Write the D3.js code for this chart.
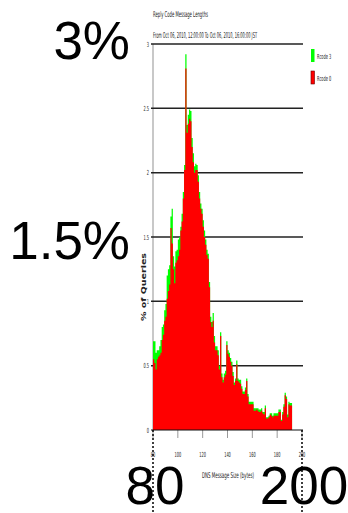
<!DOCTYPE html>
<html><head><meta charset="utf-8">
<script src="https://cdn.jsdelivr.net/npm/d3@7"></script>
<style>html,body{margin:0;padding:0;background:#fff;}svg{display:block;}</style>
</head><body>
<svg id="c" width="348" height="513"></svg>
<script>
const title = "Reply Code Message Lengths";
const subtitle = "From Oct 06, 2010, 12:00:00 To Oct 06, 2010, 16:00:00 JST";
const xTitle = "DNS Message Size (bytes)";
const yTitle = "% of Queries";
const seriesNames = ["Rcode 3", "Rcode 0"];
const seriesColors = ["#00ff00", "#ff0000"];
const yTicks = [0, 0.5, 1, 1.5, 2, 2.5, 3];
const yTickLabels = ["0", "0.5", "1", "1.5", "2", "2.5", "3"];
const xTicks = [80, 100, 120, 140, 160, 180, 200];
const bigYLabels = [{v: 3, t: "3%"}, {v: 1.5, t: "1.5%"}];
const bigXLabels = [{v: 80, t: "80"}, {v: 200, t: "200"}];
const sizes = d3.range(80, 192);
// total height (Rcode 3 visible on top of Rcode 0)
const rcode3 = [0.69,0.69,0.60,0.62,0.62,0.65,0.70,0.80,0.82,0.93,0.98,1.20,1.25,1.28,1.66,1.72,1.35,1.27,1.39,1.40,
1.48,1.50,1.58,1.68,1.85,2.06,2.92,2.37,2.45,2.49,2.48,2.27,2.15,2.05,2.07,2.06,1.98,1.85,1.76,1.72,
1.63,1.55,1.48,1.40,1.37,1.15,0.88,0.84,0.91,0.73,0.65,0.65,0.62,0.50,0.76,0.44,0.39,0.44,0.46,0.69,
0.62,0.60,0.56,0.53,0.45,0.37,0.40,0.54,0.40,0.39,0.39,0.34,0.30,0.30,0.33,0.40,0.28,0.22,0.22,0.22,
0.22,0.17,0.17,0.17,0.17,0.16,0.16,0.17,0.14,0.14,0.19,0.10,0.10,0.11,0.13,0.13,0.11,0.13,0.13,0.13,
0.13,0.16,0.16,0.08,0.14,0.20,0.29,0.26,0.12,0.22,0.21,0.21];
const rcode0 = [0.55,0.52,0.47,0.55,0.57,0.58,0.60,0.70,0.74,0.85,0.88,1.02,1.08,1.13,1.57,1.45,1.25,1.14,1.30,1.32,
1.35,1.40,1.55,1.62,1.80,2.02,2.81,2.31,2.38,2.42,2.40,2.20,2.08,2.00,2.02,2.02,1.93,1.80,1.72,1.68,
1.58,1.50,1.44,1.36,1.33,1.11,0.84,0.80,0.85,0.68,0.62,0.62,0.58,0.47,0.73,0.41,0.37,0.41,0.43,0.66,
0.59,0.57,0.53,0.50,0.42,0.35,0.38,0.51,0.38,0.37,0.36,0.32,0.28,0.28,0.31,0.38,0.26,0.20,0.20,0.20,
0.20,0.15,0.15,0.16,0.15,0.14,0.14,0.15,0.13,0.12,0.17,0.09,0.09,0.10,0.12,0.11,0.10,0.11,0.11,0.11,
0.11,0.14,0.14,0.07,0.12,0.18,0.27,0.24,0.10,0.20,0.19,0.19];

const svg = d3.select("#c");
const x = d3.scaleLinear().domain([80, 200]).range([153, 302]);
const y = d3.scaleLinear().domain([0, 3]).range([430, 44]);
const small = "'DejaVu Sans', sans-serif";

function tinyText(px, py, txt, opts) {
  const o = Object.assign({size: 7, sx: 0.55, anchor: "start", weight: "normal", fill: "#222"}, opts || {});
  svg.append("g").attr("transform", `translate(${px},${py}) scale(${o.sx},1)`)
    .append("text").attr("font-family", small).attr("font-size", o.size)
    .attr("font-weight", o.weight).attr("fill", o.fill).attr("text-anchor", o.anchor).text(txt);
}

// y axis grey line
svg.append("line").attr("x1", 153).attr("x2", 153).attr("y1", y(3)).attr("y2", y(0))
  .attr("stroke", "#c8c8c8").attr("stroke-width", 2);

// gridlines
svg.append("g").selectAll("line").data(yTicks.filter(d => d > 0)).join("line")
  .attr("x1", 151).attr("x2", 303).attr("y1", d => y(d)).attr("y2", d => y(d))
  .attr("stroke", "#222").attr("stroke-width", 1.5);

// x tick marks
svg.append("g").selectAll("line").data(xTicks).join("line")
  .attr("x1", d => x(d)).attr("x2", d => x(d)).attr("y1", y(0)).attr("y2", y(0) + 8)
  .attr("stroke", "#999").attr("stroke-width", 1);

// histogram bars as step areas (no seams between adjacent bars)
[rcode3, rcode0].forEach((arr, i) => {
  const pts = sizes.map((s, j) => [s, arr[j]]);
  pts.push([sizes[sizes.length - 1] + 1, arr[arr.length - 1]]);
  const area = d3.area().curve(d3.curveStepAfter)
    .x(d => x(d[0])).y0(y(0)).y1(d => y(d[1]));
  svg.append("path").datum(pts).attr("d", area).attr("fill", seriesColors[i]);
});

// zero line
svg.append("line").attr("x1", 151).attr("x2", 303).attr("y1", y(0)).attr("y2", y(0))
  .attr("stroke", "#111").attr("stroke-width", 1.2);

// y tick labels
yTicks.forEach((d, i) => tinyText(149, y(d) + 2.5, yTickLabels[i], {size: 7, sx: 0.5, anchor: "end"}));
// x tick labels
xTicks.forEach(d => tinyText(x(d), 457, String(d), {size: 7, sx: 0.5, anchor: "middle"}));

// titles
tinyText(153, 17, title, {size: 8, sx: 0.47});
tinyText(153, 38, subtitle, {size: 8, sx: 0.44});
tinyText(228, 478, xTitle, {size: 8, sx: 0.5, anchor: "middle"});
svg.append("g").attr("transform", "translate(146,287) rotate(-90) scale(1,0.75)")
  .append("text").attr("font-family", small).attr("font-size", 9.5).attr("font-weight", "bold")
  .attr("fill", "#222").attr("text-anchor", "middle").text(yTitle);

// legend
seriesNames.forEach((n, i) => {
  svg.append("rect").attr("x", 311).attr("y", 49 + i * 22).attr("width", 3.5).attr("height", 13)
    .attr("fill", seriesColors[i]).attr("stroke", i === 1 ? "#600" : "none").attr("stroke-width", 0.6);
  tinyText(317, 59 + i * 22, n, {size: 7, sx: 0.5});
});

// dotted lines
bigXLabels.forEach(d => {
  svg.append("line").attr("x1", x(d.v)).attr("x2", x(d.v)).attr("y1", y(0)).attr("y2", 513)
    .attr("stroke", "#000").attr("stroke-width", 1.5).attr("stroke-dasharray", "2,2");
});

// big labels
const big = "'Liberation Sans', Arial, sans-serif";
const bigOffset = {3: 15, 1.5: 22};
bigYLabels.forEach(d => {
  svg.append("text").attr("x", 130).attr("y", y(d.v) + bigOffset[d.v]).attr("text-anchor", "end")
    .attr("font-family", big).attr("font-size", 53).attr("fill", "#000").text(d.t);
});
bigXLabels.forEach(d => {
  svg.append("text").attr("x", x(d.v) + 2).attr("y", 504).attr("text-anchor", "middle")
    .attr("font-family", big).attr("font-size", 53).attr("fill", "#000").text(d.t);
});
</script>
</body></html>
